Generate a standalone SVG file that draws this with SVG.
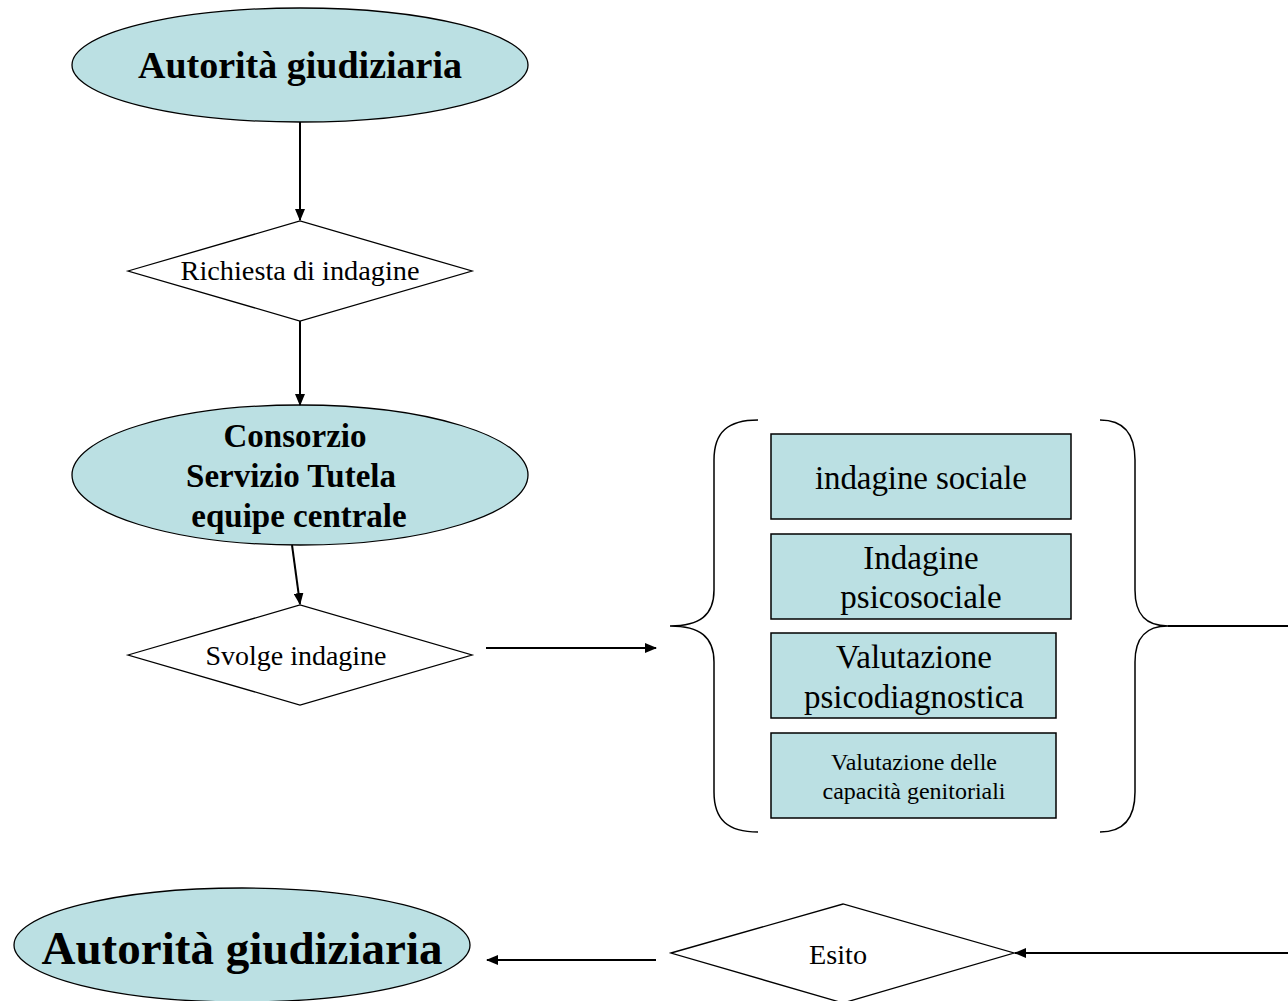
<svg xmlns="http://www.w3.org/2000/svg" width="1288" height="1001" viewBox="0 0 1288 1001">
<defs>
<marker id="ah" markerWidth="12" markerHeight="10" refX="11" refY="5" orient="auto" markerUnits="userSpaceOnUse">
<path d="M0,0 L12,5 L0,10 Z" fill="#000"/>
</marker>
<style>
.ell{fill:#bbe0e3;stroke:#000;stroke-width:1.3}
.box{fill:#bbe0e3;stroke:#000;stroke-width:1.5}
.dia{fill:#fff;stroke:#000;stroke-width:1.3}
.con{stroke:#000;stroke-width:2;fill:none}
.br{stroke:#000;stroke-width:1.5;fill:none}
text{font-family:"Liberation Serif","Times New Roman",serif;fill:#000;text-anchor:middle}
.b{font-weight:bold}
</style>
</defs>
<rect width="1288" height="1001" fill="#fff"/>
<g id="autorita1">
<ellipse class="ell" cx="300" cy="65" rx="228" ry="57"/>
<text class="b" x="300" y="78" font-size="38">Autorità giudiziaria</text>
</g>
<g id="richiesta">
<polygon class="dia" points="128,271 300,221 472,271 300,321"/>
<text x="300" y="280" font-size="27" textLength="239" lengthAdjust="spacingAndGlyphs">Richiesta di indagine</text>
</g>
<g id="consorzio">
<ellipse class="ell" cx="300" cy="475" rx="228" ry="70"/>
<text class="b" x="295" y="447" font-size="33">Consorzio</text>
<text class="b" x="291" y="487" font-size="33">Servizio Tutela</text>
<text class="b" x="299" y="527" font-size="33">equipe centrale</text>
</g>
<g id="svolge">
<polygon class="dia" points="128,655 300,605 472,655 300,705"/>
<text x="296" y="665" font-size="27" textLength="181" lengthAdjust="spacingAndGlyphs">Svolge indagine</text>
</g>
<g id="brace-left">
<path class="br" d="M758,420 C728,420 714,432 714,460 L714,590 C714,615 700,626 670,626 C700,626 714,637 714,662 L714,792 C714,820 728,832 758,832"/>
</g>
<g id="box1">
<rect class="box" x="771" y="434" width="300" height="85"/>
<text x="921" y="489" font-size="33" textLength="212" lengthAdjust="spacing">indagine  sociale</text>
</g>
<g id="box2">
<rect class="box" x="771" y="534" width="300" height="85"/>
<text x="921" y="569" font-size="33">Indagine</text>
<text x="921" y="608" font-size="33">psicosociale</text>
</g>
<g id="box3">
<rect class="box" x="771" y="633" width="285" height="85"/>
<text x="914" y="668" font-size="33">Valutazione</text>
<text x="914" y="708" font-size="33">psicodiagnostica</text>
</g>
<g id="box4">
<rect class="box" x="771" y="733" width="285" height="85"/>
<text x="914" y="770" font-size="24" textLength="166" lengthAdjust="spacingAndGlyphs">Valutazione delle</text>
<text x="914" y="799" font-size="24" textLength="183" lengthAdjust="spacingAndGlyphs">capacità genitoriali</text>
</g>
<g id="brace-right">
<path class="br" d="M1100,420 C1122,420 1135,432 1135,460 L1135,590 C1135,615 1146,626 1168,626 C1146,626 1135,637 1135,662 L1135,792 C1135,820 1122,832 1100,832"/>
</g>
<g id="esito">
<polygon class="dia" points="671,953 843,904 1014,953 843,1003"/>
<text x="838" y="964" font-size="28" textLength="58" lengthAdjust="spacingAndGlyphs">Esito</text>
</g>
<g id="autorita2">
<ellipse class="ell" cx="242" cy="945" rx="228" ry="57"/>
<text class="b" x="242" y="964" font-size="47" textLength="401" lengthAdjust="spacingAndGlyphs">Autorità giudiziaria</text>
</g>
<g id="connectors">
<line class="con" x1="300" y1="122" x2="300" y2="220" marker-end="url(#ah)"/>
<line class="con" x1="300" y1="321" x2="300" y2="405" marker-end="url(#ah)"/>
<line class="con" x1="292" y1="545" x2="300" y2="604" marker-end="url(#ah)"/>
<line class="con" x1="486" y1="648" x2="656" y2="648" marker-end="url(#ah)"/>
<line class="con" x1="1168" y1="626" x2="1288" y2="626"/>
<line class="con" x1="1288" y1="953" x2="1015" y2="953" marker-end="url(#ah)"/>
<line class="con" x1="656" y1="960" x2="487" y2="960" marker-end="url(#ah)"/>
</g>
</svg>
